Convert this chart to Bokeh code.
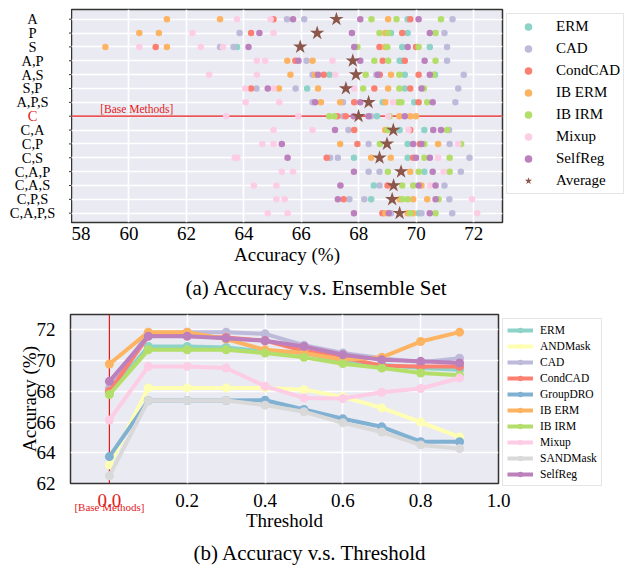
from bokeh.plotting import figure
from bokeh.models import (Range1d, FixedTicker, Span, Label, Legend, LegendItem,
                          Title, PrintfTickFormatter, LinearAxis, Grid)
from bokeh.core.properties import value
from bokeh.layouts import column, row
from bokeh.embed import file_html
from bokeh.resources import INLINE

# ---------------- data: (a) Accuracy v.s. Ensemble Set ----------------
ROWS = ["A", "P", "S", "A,P", "A,S", "S,P", "A,P,S", "C",
        "C,A", "C,P", "C,S", "C,A,P", "C,A,S", "C,P,S", "C,A,P,S"]
BASE_ROW = "C"

ERM = {"A": [69.70], "P": [69.12, 69.70], "S": [63.76, 69.51, 70.47],
       "A,P": [69.42, 69.51], "A,S": [66.98, 69.60, 70.65], "S,P": [66.20, 69.60],
       "A,P,S": [68.83, 69.93], "C": [68.63], "C,A": [69.42, 70.28], "C,P": [69.70],
       "C,S": [67.83, 69.70], "C,A,P": [70.28], "C,A,S": [68.52], "C,P,S": [68.43],
       "C,A,P,S": [70.08]}
CAD = {"A": [65.50, 66.10, 71.26], "P": [63.85, 70.98], "S": [63.17, 63.64, 71.07],
       "A,P": [66.18, 71.07], "A,S": [66.39, 68.61, 71.65], "S,P": [64.44, 65.80, 71.46],
       "A,P,S": [66.39, 67.45, 71.36], "C": [67.45, 68.42], "C,A": [67.64, 71.14],
       "C,P": [68.34, 71.16], "C,S": [67.00, 67.27, 71.85], "C,A,P": [68.34, 68.72, 71.55],
       "C,A,S": [68.72, 70.98], "C,P,S": [67.67, 68.19, 71.15], "C,A,P,S": [69.12, 70.18, 71.25]}
CONDCAD = {"A": [65.03, 69.79], "P": [64.25, 69.51], "S": [60.93, 68.72, 69.99],
           "A,P": [65.79, 68.83, 69.60], "A,S": [66.78, 68.73, 70.08], "S,P": [64.25, 68.54, 69.79],
           "A,P,S": [67.84, 70.08], "C": [67.25, 67.54], "C,A": [67.84, 69.79],
           "C,P": [67.95, 70.12], "C,S": [66.88, 69.89], "C,A,P": [],
           "C,A,S": [69.00], "C,P,S": [67.47], "C,A,P,S": [68.82]}
IB_ERM = {"A": [61.32, 63.17, 69.02], "P": [60.36, 61.04, 68.92], "S": [59.18, 61.32, 68.91],
          "A,P": [65.51, 66.39], "A,S": [65.62, 66.48, 69.12], "S,P": [65.22, 66.58, 69.02],
          "A,P,S": [66.68, 67.35, 68.92], "C": [69.41, 69.79, 69.99], "C,A": [68.92],
          "C,P": [67.35, 70.76], "C,S": [68.43, 69.11], "C,A,P": [69.79], "C,A,S": [70.18],
          "C,P,S": [69.42, 69.89, 70.38], "C,A,P,S": [68.92, 69.70, 69.89]}
IB_IRM = {"A": [68.44, 69.31, 70.86], "P": [68.72, 69.02, 70.67], "S": [67.95, 68.99, 70.08],
          "A,P": [68.54, 69.02, 70.67], "A,S": [68.24, 69.41, 70.60], "S,P": [68.15, 69.41, 70.26],
          "A,P,S": [69.38, 69.48, 70.38], "C": [66.97, 67.15, 69.07], "C,A": [69.00, 71.07],
          "C,P": [68.73, 70.28, 71.56], "C,S": [70.28, 71.16], "C,A,P": [69.01, 70.08, 71.16],
          "C,A,S": [69.51, 69.89], "C,P,S": [69.51, 69.70, 70.77], "C,A,P,S": [69.79, 70.67]}
MIXUP = {"A": [63.76, 64.93], "P": [62.21, 65.03], "S": [60.36, 62.50, 63.27],
         "A,P": [64.45, 64.74, 67.08], "A,S": [62.79, 64.45, 67.18], "S,P": [64.05, 65.03, 67.84],
         "A,P,S": [64.06, 65.23, 69.19], "C": [63.38, 65.90, 69.02], "C,A": [65.03, 66.39, 69.73],
         "C,P": [64.64, 65.03, 71.46], "C,S": [63.68, 63.77, 70.76], "C,A,P": [65.32, 65.71, 70.95],
         "C,A,S": [64.35, 65.13, 70.49], "C,P,S": [65.13, 65.42, 71.94], "C,A,P,S": [64.83, 65.52, 72.12]}
SELFREG = {"A": [65.71, 68.05, 70.08], "P": [64.54, 67.76, 70.47], "S": [64.16, 67.84, 69.70],
           "A,P": [65.90, 68.05, 70.29], "A,S": [66.58, 68.66, 70.47], "S,P": [64.83, 70.18],
           "A,P,S": [66.48, 68.05, 70.57], "C": [67.82, 68.34, 69.60], "C,A": [67.17, 70.59, 70.86],
           "C,P": [65.32, 69.89, 70.18], "C,S": [65.52, 69.99, 70.47], "C,A,P": [67.83, 70.57],
           "C,A,S": [67.36, 70.08, 70.67], "C,P,S": [67.27, 70.67], "C,A,P,S": [67.83, 69.04, 70.47]}
AVERAGE = [67.22, 66.55, 65.96, 67.79, 67.90, 67.55, 68.34, 67.99,
           69.20, 68.98, 68.72, 69.47, 69.21, 69.16, 69.42]

X_TICKS_A = [58, 60, 62, 64, 66, 68, 70, 72]

# ---------------- data: (b) Accuracy v.s. Threshold ----------------
THRESHOLDS = [0.0, 0.1, 0.2, 0.3, 0.4, 0.5, 0.6, 0.7, 0.8, 0.9]
B_ERM = [67.90, 70.92, 70.92, 70.86, 70.60, 70.50, 69.95, 69.73, 69.52, 69.41]
B_ANDMASK = [63.21, 68.22, 68.22, 68.22, 68.22, 68.11, 67.64, 66.92, 66.00, 65.02]
B_CAD = [68.20, 71.80, 71.85, 71.85, 71.74, 71.00, 70.49, 70.16, 69.90, 70.16]
B_CONDCAD = [68.00, 71.60, 71.60, 71.50, 71.30, 70.64, 70.20, 69.67, 69.62, 69.62]
B_GROUPDRO = [63.75, 67.40, 67.40, 67.40, 67.42, 66.82, 66.21, 65.69, 64.72, 64.72]
B_IB_ERM = [69.78, 71.85, 71.85, 71.40, 70.70, 70.50, 70.06, 70.21, 71.24, 71.85]
B_IB_IRM = [67.79, 70.70, 70.70, 70.70, 70.49, 70.21, 69.80, 69.52, 69.19, 69.04]
B_MIXUP = [66.13, 69.62, 69.62, 69.52, 68.33, 67.57, 67.53, 67.94, 68.18, 68.87]
B_SANDMASK = [62.50, 67.40, 67.40, 67.40, 67.10, 66.67, 65.95, 65.35, 64.51, 64.27]
B_SELFREG = [68.65, 71.59, 71.59, 71.46, 71.29, 70.92, 70.38, 70.06, 69.95, 69.84]
BASE_THRESHOLD = [0.0]
X_TICKS_B = [0.2, 0.4, 0.6, 0.8, 1.0]
Y_TICKS_B = [62, 64, 66, 68, 70, 72]

# ---------------- styles ----------------
SERIF = "Liberation Serif"
BG = "#eaeaf2"
RED = "#e41a1c"
EDGE = "#333333"
COL = {"ERM": "#8dd3c7", "ANDMask": "#ffffb3", "CAD": "#bebada", "CondCAD": "#fb8072",
       "GroupDRO": "#80b1d3", "IB ERM": "#fdb462", "IB IRM": "#b3de69", "Mixup": "#fccde5",
       "SANDMask": "#d9d9d9", "SelfReg": "#bc80bd", "Average": "#8c564b"}


def style_text(obj, prefix, size, color="black"):
    setattr(obj, prefix + "_font", SERIF)
    setattr(obj, prefix + "_font_size", size)
    setattr(obj, prefix + "_color", color)


# ================= figure (a) =================
ypos = {r: len(ROWS) - 1 - i for i, r in enumerate(ROWS)}
row_ticks = [ypos[r] for r in ROWS]

p1 = figure(frame_width=431, frame_height=213, title=None,
            x_range=Range1d(58, 73), y_range=Range1d(-0.67, 14.70),
            y_axis_location=None,
            output_backend="svg", toolbar_location=None,
            min_border_left=0, min_border_right=0, min_border_top=9, min_border_bottom=60,
            background_fill_color=BG, border_fill_color="white",
            outline_line_color=EDGE, outline_line_width=1.5)

p1.xaxis.ticker = FixedTicker(ticks=X_TICKS_A)
p1.xaxis.axis_label = "Accuracy (%)"
p1.xaxis.axis_line_color = None
p1.xaxis.major_tick_line_color = None
p1.xaxis.minor_tick_line_color = None
p1.xaxis.major_label_standoff = -2
p1.xaxis.axis_label_standoff = 1
style_text(p1.xaxis, "major_label_text", "19px")
style_text(p1.xaxis, "axis_label_text", "19px")
p1.xaxis.axis_label_text_font_style = "normal"

p1.xgrid.grid_line_color = "white"
p1.xgrid.grid_line_width = 1.6
p1.add_layout(Grid(dimension=1, ticker=FixedTicker(ticks=row_ticks),
                   grid_line_color="white", grid_line_width=1.3))

p1.add_layout(Span(location=ypos[BASE_ROW], dimension="width", line_color=RED,
                   line_width=1.2, level="underlay"))

methods_a = [("ERM", ERM), ("CAD", CAD), ("CondCAD", CONDCAD), ("IB ERM", IB_ERM),
             ("IB IRM", IB_IRM), ("Mixup", MIXUP), ("SelfReg", SELFREG)]
items1 = []
for name, d in methods_a:
    xs, ys = [], []
    for r, vals in d.items():
        for v in vals:
            xs.append(v)
            ys.append(ypos[r])
    rr = p1.scatter(xs, ys, size=6.5, color=COL[name], line_color=None)
    items1.append(LegendItem(label=name, renderers=[rr]))

ravg = p1.scatter(AVERAGE, row_ticks, marker="star", size=15,
                  color=COL["Average"], line_color=None)
items1.append(LegendItem(label="Average", renderers=[ravg]))

p1.add_layout(Label(x=59.0, y=ypos[BASE_ROW], y_offset=1, text="[Base Methods]",
                    text_baseline="bottom", text_font=SERIF, text_font_size="11.5px",
                    text_color=RED))

leg1 = Legend(items=items1, location="top_left", margin=4, padding=3, spacing=3,
              glyph_width=36, glyph_height=19, label_height=19, label_standoff=10,
              border_line_color="#cccccc", border_line_width=1,
              background_fill_color="white", background_fill_alpha=1)
style_text(leg1, "label_text", "15px")
p1.add_layout(leg1, "right")

cap1 = Title(text="(a) Accuracy v.s. Ensemble Set", align="left", offset=114,
             text_font=SERIF, text_font_size="21px", text_font_style="normal",
             text_color="black", standoff=13)
p1.add_layout(cap1, "below")

# row labels (categorical tick labels, centred) in a narrow strip sharing the y scale
lab = figure(frame_width=71, frame_height=213, title=None,
             x_range=Range1d(0, 71), y_range=p1.y_range,
             x_axis_location=None, y_axis_location=None,
             output_backend="svg", toolbar_location=None,
             min_border_left=0, min_border_right=0, min_border_top=9, min_border_bottom=0,
             background_fill_color="white", border_fill_color="white",
             outline_line_color=None)
lab.grid.visible = False
lab.text(x=[32] * len(ROWS), y=row_ticks, text=ROWS,
         text_color=[RED if r == BASE_ROW else "black" for r in ROWS],
         text_align="center", text_baseline="middle",
         text_font=value(SERIF), text_font_size=value("14.5px"))
lab.segment(x0=[68.5] * len(ROWS), x1=[71] * len(ROWS), y0=row_ticks, y1=row_ticks,
            line_color=EDGE, line_width=1)

# ================= figure (b) =================
p2 = figure(frame_width=428, frame_height=169, title=None,
            x_range=Range1d(-0.1, 1.0), y_range=Range1d(62, 73),
            output_backend="svg", toolbar_location=None,
            min_border_left=70, min_border_right=0, min_border_top=8, min_border_bottom=40,
            background_fill_color=BG, border_fill_color="white",
            outline_line_color=EDGE, outline_line_width=1.5)

ax_a = p2.xaxis[0]
ax_a.ticker = FixedTicker(ticks=X_TICKS_B)
ax_a.formatter = PrintfTickFormatter(format="%.1f")
ax_a.major_label_standoff = 4

ax_b = LinearAxis(ticker=FixedTicker(ticks=BASE_THRESHOLD),
                  formatter=PrintfTickFormatter(format="%.1f"),
                  major_label_standoff=-22)
ax_c = LinearAxis(ticker=FixedTicker(ticks=BASE_THRESHOLD),
                  major_label_overrides={0: "[Base Methods]"},
                  major_label_standoff=-15, axis_label="Threshold",
                  axis_label_standoff=-6)
p2.add_layout(ax_b, "below")
p2.add_layout(ax_c, "below")

p2.yaxis.ticker = FixedTicker(ticks=Y_TICKS_B)
p2.yaxis.axis_label = "Accuracy (%)"
p2.yaxis.major_label_standoff = 9
p2.yaxis.axis_label_standoff = -6

for ax in (ax_a, ax_b, ax_c, p2.yaxis[0]):
    ax.axis_line_color = None
    ax.major_tick_line_color = None
    ax.minor_tick_line_color = None
    style_text(ax, "major_label_text", "19px")
    style_text(ax, "axis_label_text", "19px")
    ax.axis_label_text_font_style = "normal"
ax_b.major_label_text_color = RED
ax_c.major_label_text_color = RED
ax_c.major_label_text_font_size = "11px"

p2.xgrid.ticker = FixedTicker(ticks=X_TICKS_B)
p2.grid.grid_line_color = "white"
p2.grid.grid_line_width = 1.6

p2.add_layout(Span(location=BASE_THRESHOLD[0], dimension="height", line_color=RED,
                   line_width=1.2, level="underlay"))

series_b = [("ERM", B_ERM), ("ANDMask", B_ANDMASK), ("CAD", B_CAD), ("CondCAD", B_CONDCAD),
            ("GroupDRO", B_GROUPDRO), ("IB ERM", B_IB_ERM), ("IB IRM", B_IB_IRM),
            ("Mixup", B_MIXUP), ("SANDMask", B_SANDMASK), ("SelfReg", B_SELFREG)]
items2 = []
for name, vals in series_b:
    ln = p2.line(THRESHOLDS, vals, line_width=4, color=COL[name])
    sc = p2.scatter(THRESHOLDS, vals, size=9, color=COL[name], line_color=None)
    items2.append(LegendItem(label=name, renderers=[ln, sc]))

leg2 = Legend(items=items2, location="top_left", margin=4, padding=4, spacing=2,
              glyph_width=26, glyph_height=14, label_height=14, label_standoff=7,
              border_line_color="#cccccc", border_line_width=1,
              background_fill_color="white", background_fill_alpha=1)
style_text(leg2, "label_text", "11.5px")
p2.add_layout(leg2, "right")

cap2 = Title(text="(b) Accuracy v.s. Threshold", align="left", offset=123,
             text_font=SERIF, text_font_size="21px", text_font_style="normal",
             text_color="black", standoff=10)
p2.add_layout(cap2, "below")

layout = column(row(lab, p1), p2)
open("out.html", "w").write(file_html(layout, INLINE))
